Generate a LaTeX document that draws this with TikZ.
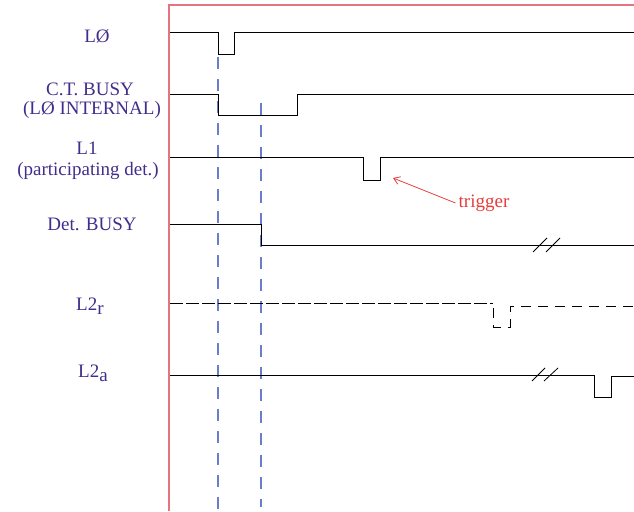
\documentclass[tikz,border=0pt]{standalone}
\usepackage{fontspec}
\setmainfont{Liberation Serif}
\usetikzlibrary{positioning,arrows.meta}
\definecolor{labblue}{RGB}{65,45,140}
\definecolor{framered}{RGB}{230,115,125}
\definecolor{markblue}{RGB}{105,125,200}
\definecolor{trigred}{RGB}{230,60,60}
\newcommand{\lsub}[1]{\raisebox{-4.5pt}{\fontsize{19}{19}\selectfont #1}}

\begin{document}
\begin{tikzpicture}[
  x=1pt, y=-1pt,
  >={Straight Barb[length=6pt,width=8pt]},
  lab/.style={text=labblue, anchor=base, inner sep=0pt, font=\fontsize{19}{21}\selectfont},
  sig/.style={line width=1pt, black},
  brk/.style={line width=0.8pt, black},
  tline/.style={markblue, line width=1.2pt, dash pattern=on 12pt off 10pt},
  trig/.style={text=trigred, font=\fontsize{19}{21}\selectfont, inner sep=3pt}
]
\useasboundingbox (0,0) rectangle (634,511);

% Frame of the timing chart
\draw[framered, line width=2pt] (169,511) -- (169,5) -- (634,5);

% Signal names (left)
\node[lab] (l0)      at (97,42)  {LØ};
\node[lab] (ctbusy)  at (90,95)  {C.T. BUSY};
\node[lab] (ctint)   at (92,114) {(LØ INTERNAL)};
\node[lab] (l1)      at (87,154) {L1};
\node[lab] (l1det)   at (88,175) {(participating det.)};
\node[lab] (detbusy) at (92,230) {Det. BUSY};
\node[lab, anchor=base west] (l2r) at (76,310) {L2\lsub{r}};
\node[lab, anchor=base west] (l2a) at (78,377) {L2\lsub{a}};

% Time markers
\draw[tline] (218,57) -- (218,511);
\draw[tline] (261,103) -- (261,507);

% L0
\draw[sig] (170,33) -- (218,33) -- (218,55) -- (234,55) -- (234,33) -- (634,33);

% C.T. BUSY
\draw[sig] (170,94) -- (218,94) -- (218,115) -- (297,115) -- (297,94) -- (634,94);

% L1 with trigger pulse
\draw[sig] (170,157) -- (363,157) -- (363,180) -- (380,180) -- (380,157) -- (634,157);
\coordinate (pulse) at (393,178);
\node[trig] (trigger) at (484,203) {trigger};
\draw[->, trigred, line width=0.8pt] (trigger.west) -- (pulse);

% Det. BUSY
\draw[sig] (170,224) -- (261,224) -- (261,245) -- (634,245);
\draw[brk] (533,252) -- (547,238);
\draw[brk] (546,252) -- (560,238);

% L2r (dashed)
\draw[sig, dash pattern=on 13pt off 3pt] (170,303) -- (493,303);
\draw[sig, dash pattern=on 10pt off 7pt, dash phase=12pt]
  (493,303) -- (493,327) -- (510,327) -- (510,306) -- (634,306);

% L2a
\draw[sig] (170,375) -- (594,375) -- (594,397) -- (611,397) -- (611,376) -- (634,376);
\draw[brk] (532,381) -- (545,368);
\draw[brk] (544,381) -- (558,368);

\end{tikzpicture}
\end{document}
